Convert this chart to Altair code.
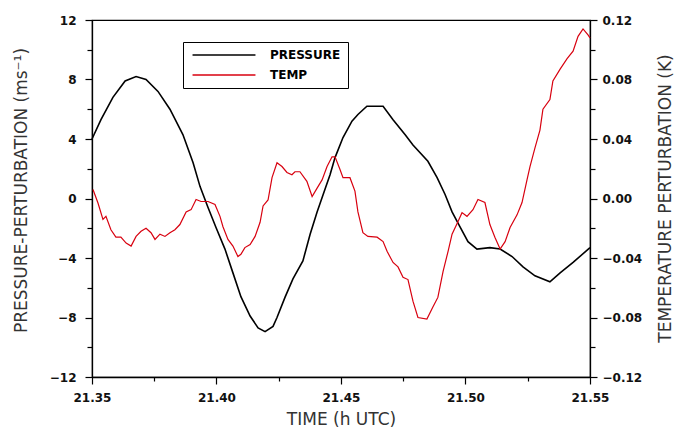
import altair as alt
import pandas as pd

# ---- data ----
p_time = [21.3500, 21.3536, 21.3584, 21.3633, 21.3677, 21.3717, 21.3765, 21.3813,
          21.3865, 21.3906, 21.3934, 21.3966, 21.3998, 21.4034, 21.4066, 21.4098,
          21.4135, 21.4167, 21.4195, 21.4227, 21.4243, 21.4275, 21.4307, 21.4347,
          21.4376, 21.4404, 21.4428, 21.4456, 21.4476, 21.4508, 21.4544, 21.4568,
          21.4604, 21.4669, 21.4709, 21.4757, 21.4789, 21.4849, 21.4886, 21.4918,
          21.4946, 21.4978, 21.5010, 21.5046, 21.5098, 21.5139, 21.5187, 21.5231,
          21.5279, 21.5339, 21.5380, 21.5432, 21.5500]
p_val = [4.0, 5.3, 6.8, 7.9, 8.2, 8.0, 7.2, 6.0,
         4.3, 2.4, 0.8, -0.6, -1.95, -3.4, -5.0, -6.6,
         -7.9, -8.7, -8.95, -8.6, -8.0, -6.65, -5.4, -4.2,
         -2.4, -0.9, 0.25, 1.6, 2.75, 4.1, 5.2, 5.65,
         6.2, 6.2, 5.3, 4.3, 3.6, 2.5, 1.4, 0.27,
         -0.9, -1.9, -2.9, -3.4, -3.3, -3.4, -3.9, -4.6,
         -5.2, -5.6, -5.0, -4.3, -3.3]

t_time = [21.3504, 21.3524, 21.3544, 21.3556, 21.3576, 21.3596, 21.3616, 21.3637,
          21.3657, 21.3677, 21.3697, 21.3717, 21.3737, 21.3753, 21.3773, 21.3793,
          21.3813, 21.3833, 21.3853, 21.3878, 21.3898, 21.3918, 21.3938, 21.3966,
          21.3994, 21.4014, 21.4026, 21.4046, 21.4066, 21.4086, 21.4098, 21.4114,
          21.4135, 21.4155, 21.4175, 21.4187, 21.4207, 21.4223, 21.4243, 21.4263,
          21.4283, 21.4303, 21.4315, 21.4335, 21.4363, 21.4384, 21.4404, 21.4424,
          21.4444, 21.4464, 21.4476, 21.4496, 21.4508, 21.4536, 21.4556, 21.4568,
          21.4588, 21.4608, 21.4645, 21.4669, 21.4685, 21.4709, 21.4729, 21.4749,
          21.4769, 21.4789, 21.4809, 21.4845, 21.4869, 21.4889, 21.4910, 21.4930,
          21.4946, 21.4970, 21.4986, 21.5006, 21.5030, 21.5050, 21.5078, 21.5098,
          21.5118, 21.5139, 21.5159, 21.5179, 21.5207, 21.5227, 21.5247, 21.5259,
          21.5279, 21.5299, 21.5311, 21.5339, 21.5351, 21.5380, 21.5408, 21.5432,
          21.5452, 21.5472, 21.5492, 21.5500]
t_val = [0.0060, -0.0030, -0.0140, -0.0120, -0.0210, -0.0260, -0.0260, -0.0300,
         -0.0320, -0.0255, -0.0220, -0.0200, -0.0230, -0.0275, -0.0240, -0.0255,
         -0.0230, -0.0210, -0.0175, -0.0090, -0.0075, -0.0007, -0.0020, -0.0020,
         -0.0040, -0.0120, -0.0190, -0.0275, -0.0320, -0.0390, -0.0375, -0.0330,
         -0.0310, -0.0255, -0.0160, -0.0050, -0.0010, 0.0140, 0.0240, 0.0215,
         0.0175, 0.0160, 0.0180, 0.0180, 0.0115, 0.0013, 0.0070, 0.0125,
         0.0215, 0.0280, 0.0280, 0.0195, 0.0140, 0.0140, 0.0050, -0.0090,
         -0.0230, -0.0255, -0.0260, -0.0290, -0.0355, -0.0430, -0.0460, -0.0530,
         -0.0545, -0.0690, -0.0800, -0.0810, -0.0730, -0.0665, -0.0490, -0.0355,
         -0.0240, -0.0155, -0.0095, -0.0120, -0.0075, -0.0007, -0.0027, -0.0175,
         -0.0260, -0.0340, -0.0290, -0.0195, -0.0110, -0.0027, 0.0125, 0.0215,
         0.0340, 0.0460, 0.0600, 0.0665, 0.0790, 0.0870, 0.0940, 0.0990,
         0.1090, 0.1140, 0.1100, 0.1080]

x_ticks = [21.35, 21.375, 21.40, 21.425, 21.45, 21.475, 21.50, 21.525, 21.55]
left_ticks = [-12, -10, -8, -6, -4, -2, 0, 2, 4, 6, 8, 10, 12]
right_ticks = [-0.12, -0.10, -0.08, -0.06, -0.04, -0.02, 0.0, 0.02, 0.04, 0.06, 0.08, 0.10, 0.12]
series_names = ["PRESSURE", "TEMP"]
series_colors = ["#000000", "#d8000f"]

dfp = pd.DataFrame({"time": p_time, "pressure": p_val})
dft = pd.DataFrame({"time": t_time, "temp": t_val})

LABEL_FONT = "DejaVu Sans"
TITLE_FONT = "DejaVu Sans"

x_enc = alt.X(
    "time:Q",
    scale=alt.Scale(domain=[21.35, 21.55], nice=False, zero=False),
    axis=alt.Axis(
        values=x_ticks,
        labelExpr="round(datum.value*1000) % 50 === 0 ? format(datum.value, '.2f') : ''",
        tickSize={"condition": {"test": "round(datum.value*1000) % 50 === 0", "value": 7}, "value": 4},
        title="TIME (h UTC)",
        titleY=42,
        titleBaseline="middle",
        labelPadding=8,
        labelFlush=False,
        labelOverlap=False,
    ),
)

color_enc = alt.Color(
    "series:N",
    scale=alt.Scale(domain=series_names, range=series_colors),
    legend=alt.Legend(
        title=None,
        orient="none",
        legendX=91,
        legendY=22,
        direction="vertical",
        strokeColor="#000000",
        fillColor="#ffffff",
        padding=7,
        symbolType="M-6,0L6,0",
        symbolSize=110,
        symbolStrokeWidth=1.5,
        symbolOffset=28,
        labelOffset=40,
        rowPadding=8,
        labelFont=LABEL_FONT,
        labelFontSize=12,
        labelFontWeight="bold",
        labelColor="#000000",
    ),
)

pressure = alt.Chart(dfp).transform_calculate(series="'PRESSURE'").mark_line(
    strokeWidth=1.6
).encode(
    x=x_enc,
    y=alt.Y(
        "pressure:Q",
        scale=alt.Scale(domain=[-12, 12], nice=False, zero=False),
        axis=alt.Axis(
            orient="left",
            values=left_ticks,
            format="d",
            labelExpr="datum.value % 4 === 0 ? datum.label : ''",
            tickSize={"condition": {"test": "datum.value % 4 === 0", "value": 7}, "value": 5},
            title="PRESSURE-PERTURBATION (ms⁻¹)",
            titleAngle=270,
            titleX=-71,
            titleY=170,
            titleAlign="center",
            titleBaseline="middle",
            labelPadding=9,
        ),
    ),
    color=color_enc,
)

temp = alt.Chart(dft).transform_calculate(series="'TEMP'").mark_line(
    strokeWidth=1.2
).encode(
    x=x_enc,
    y=alt.Y(
        "temp:Q",
        scale=alt.Scale(domain=[-0.12, 0.12], nice=False, zero=False),
        axis=alt.Axis(
            orient="right",
            values=right_ticks,
            format=".2f",
            labelExpr="round(datum.value*100) % 4 === 0 ? datum.label : ''",
            tickSize={"condition": {"test": "round(datum.value*100) % 4 === 0", "value": 7}, "value": 5},
            title="TEMPERATURE PERTURBATION (K)",
            titleAngle=270,
            titleX=75,
            titleY=178,
            titleAlign="center",
            titleBaseline="middle",
            labelPadding=5,
        ),
    ),
    color=color_enc,
)

chart = alt.layer(pressure, temp).resolve_scale(y="independent").properties(
    width=498,
    height=357,
    autosize=alt.AutoSizeParams(type="none"),
    padding={"left": 84, "top": 12, "right": 84, "bottom": 50},
    background="#ffffff",
).configure_view(
    stroke="#000000",
    strokeWidth=1.2,
).configure_axis(
    grid=False,
    domainColor="#000000",
    domainWidth=1.3,
    tickColor="#000000",
    tickWidth=1.2,
    labelFont=LABEL_FONT,
    labelFontSize=12,
    labelFontWeight="bold",
    labelColor="#111111",
    titleFont=TITLE_FONT,
    titleFontSize=17,
    titleFontWeight="normal",
    titleColor="#333333",
)

chart.save("out.html", embed_options={"renderer": "svg", "actions": False})
